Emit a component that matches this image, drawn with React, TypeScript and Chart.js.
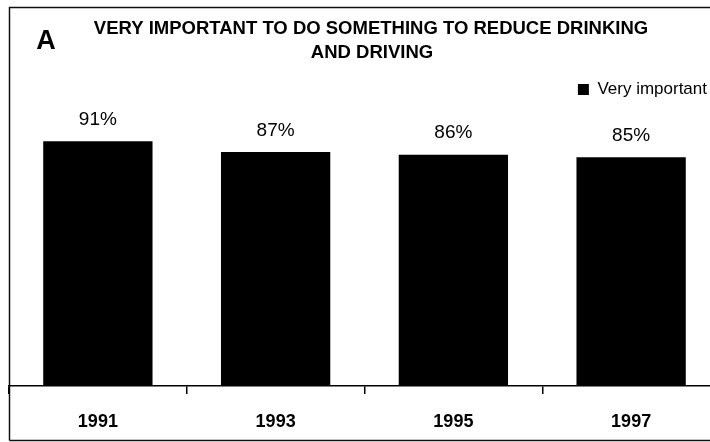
import React, { useEffect, useRef } from "react";
import { Chart, registerables } from "chart.js";

Chart.register(...registerables);

const years: string[] = ["1991", "1993", "1995", "1997"];
const veryImportant: number[] = [91, 87, 86, 85];
const seriesLabel = "Very important";
const titleLines: string[] = [
  "VERY IMPORTANT TO DO SOMETHING TO REDUCE DRINKING",
  "AND DRIVING",
];
const panelLetter = "A";

const FONT = "'Liberation Sans', Arial, Helvetica, sans-serif";

const framePlugin = {
  id: "frame",
  beforeDraw(chart: any) {
    const ctx = chart.ctx;
    ctx.save();
    ctx.fillStyle = "#ffffff";
    ctx.fillRect(0, 0, chart.width, chart.height);
    ctx.strokeStyle = "#111111";
    ctx.lineWidth = 1.5;
    ctx.beginPath();
    ctx.moveTo(9.5, 440.5);
    ctx.lineTo(9.5, 7.5);
    ctx.lineTo(chart.width, 7.5);
    ctx.moveTo(9.5, 440.5);
    ctx.lineTo(chart.width, 440.5);
    ctx.stroke();
    ctx.restore();
  },
};

const textPlugin = {
  id: "texts",
  afterDraw(chart: any) {
    const ctx = chart.ctx;
    ctx.save();
    ctx.fillStyle = "#000000";
    ctx.textAlign = "center";
    ctx.textBaseline = "middle";
    ctx.font = `bold 18.5px ${FONT}`;
    ctx.fillText(titleLines[0], 371, 29);
    ctx.fillText(titleLines[1], 372, 53);
    ctx.font = `bold 27px ${FONT}`;
    ctx.fillText(panelLetter, 46, 42);
    const meta = chart.getDatasetMeta(0);
    ctx.font = `19px ${FONT}`;
    meta.data.forEach((bar: any, i: number) => {
      ctx.fillText(`${veryImportant[i]}%`, bar.x, bar.y - 21.5);
    });
    ctx.restore();
  },
};

export default function App() {
  const ref = useRef<HTMLCanvasElement | null>(null);
  useEffect(() => {
    if (!ref.current) return;
    const chart = new Chart(ref.current, {
      type: "bar",
      data: {
        labels: years,
        datasets: [
          {
            label: seriesLabel,
            data: veryImportant,
            backgroundColor: "#000000",
            borderWidth: 0,
            barPercentage: 0.615,
            categoryPercentage: 1,
          },
        ],
      },
      options: {
        responsive: false,
        animation: false,
        layout: { padding: { top: 68, left: 9, right: 0, bottom: 0 } },
        plugins: {
          title: {
            display: true,
            text: [],
            weight: 500,
            padding: { top: 9, bottom: 0 },
          },
          tooltip: { enabled: false },
          legend: {
            display: true,
            position: "top",
            align: "end",
            labels: {
              boxWidth: 11,
              boxHeight: 11,
              padding: 13,
              color: "#000000",
              font: { family: FONT, size: 17 },
            },
          },
        },
        scales: {
          x: {
            grid: {
              display: true,
              drawOnChartArea: false,
              drawTicks: true,
              tickLength: 8,
              color: "#000000",
              lineWidth: 1.5,
            },
            border: { display: true, color: "#000000", width: 1.5 },
            ticks: {
              color: "#000000",
              padding: 17.7,
              font: { family: FONT, size: 18, weight: "bold" },
            },
          },
          y: {
            display: false,
            min: 0,
            max: 100,
          },
        },
      },
      plugins: [framePlugin, textPlugin],
    });
    return () => chart.destroy();
  }, []);
  return (
    <div
      style={{
        position: "fixed",
        left: 0,
        top: 0,
        width: 710,
        height: 442,
        overflow: "hidden",
        background: "#fff",
      }}
    >
      <canvas ref={ref} width={720} height={451} style={{ display: "block" }} />
    </div>
  );
}
